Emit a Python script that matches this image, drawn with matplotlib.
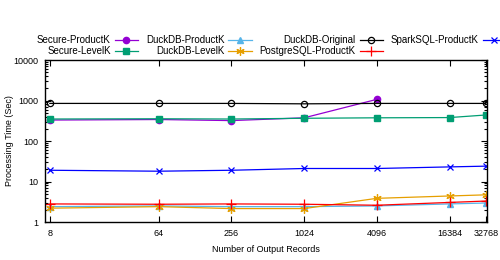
import matplotlib
matplotlib.use("Agg")
import matplotlib.pyplot as plt
from matplotlib.ticker import FixedLocator, NullFormatter, LogLocator

plt.rcParams['font.family'] = ['Liberation Sans', 'DejaVu Sans']
plt.rcParams['font.size'] = 6.5

x = [8, 64, 256, 1024, 4096, 16384, 32768]
xticklabels = ['8', '64', '256', '1024', '4096', '16384', '32768']

secure_productk = [330, 340, 320, 375, 1070]
secure_levelk = [350, 355, 350, 365, 375, 380, 440]
duckdb_productk = [2.4, 2.5, 2.4, 2.4, 2.5, 2.8, 2.95]
duckdb_levelk = [2.2, 2.4, 2.15, 2.15, 3.85, 4.4, 4.7]
duckdb_original = [850, 850, 850, 830, 850, 850, 850]
postgres_productk = [2.8, 2.75, 2.8, 2.75, 2.6, 3.05, 3.3]
spark_productk = [19, 18, 19, 21, 21, 23, 24]

fig = plt.figure(figsize=(5, 2.6), dpi=100)
ax = fig.add_axes([0.09, 0.146, 0.884, 0.623])

lw = 0.9
ax.plot(x[:5], secure_productk, 'o-', c='#9400D3', lw=lw, ms=4.5, label='Secure-ProductK')
ax.plot(x, secure_levelk, 's-', c='#009E73', lw=lw, ms=4.5, label='Secure-LevelK')
ax.plot(x, duckdb_productk, '^-', c='#56B4E9', lw=lw, ms=4.5, label='DuckDB-ProductK')
ax.plot(x, duckdb_levelk, marker=(6, 2, 0), ls='-', c='#E69F00', lw=lw, ms=6, mew=0.9,
        label='DuckDB-LevelK')
ax.plot(x, duckdb_original, 'o-', c='black', mfc='none', lw=lw, ms=4.5, mew=0.9,
        label='DuckDB-Original')
ax.plot(x, postgres_productk, '+-', c='red', lw=lw, ms=7, mew=0.9, label='PostgreSQL-ProductK')
ax.plot(x, spark_productk, 'x-', c='blue', lw=lw, ms=5, mew=0.9, label='SparkSQL-ProductK')

ax.set_xscale('log', base=2)
ax.set_yscale('log')
ax.set_xlim(7.3, 33500)
ax.set_ylim(1, 10000)
ax.xaxis.set_major_locator(FixedLocator(x))
ax.set_xticklabels(xticklabels)
ax.xaxis.set_minor_locator(FixedLocator([]))
ax.set_yticks([1, 10, 100, 1000, 10000])
ax.set_yticklabels(['1', '10', '100', '1000', '10000'])
ax.yaxis.set_minor_locator(LogLocator(base=10, subs=range(2, 10)))
ax.yaxis.set_minor_formatter(NullFormatter())
ax.tick_params(which='both', direction='in', top=True, right=True, width=0.8)
ax.tick_params(which='major', length=4, pad=5)
ax.tick_params(which='minor', length=2)
for s in ax.spines.values():
    s.set_linewidth(1.0)

ax.set_xlabel('Number of Output Records', labelpad=5)
ax.set_ylabel('Processing Time (Sec)')
ax.yaxis.set_label_coords(-0.07, 0.5)

fig.legend(loc='upper left', bbox_to_anchor=(0.074, 0.864), ncol=4, frameon=False,
           markerfirst=False, handlelength=2.4, columnspacing=0.8, handletextpad=0.4,
           labelspacing=0.1, borderaxespad=0, borderpad=0, fontsize=7)

fig.savefig('out.png', dpi=100)
